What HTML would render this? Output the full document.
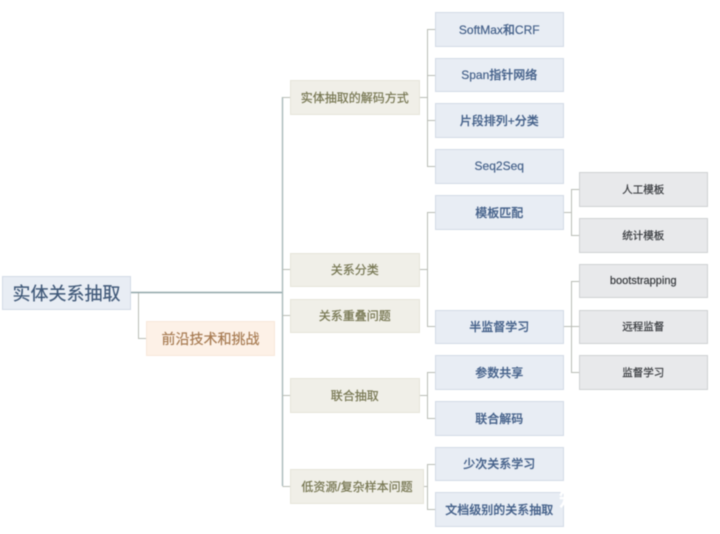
<!DOCTYPE html>
<html>
<head>
<meta charset="utf-8">
<style>
html,body{margin:0;padding:0;background:#fff;width:720px;height:534px;overflow:hidden}
#w{position:relative;width:720px;height:534px;filter:blur(0.45px);font-family:"Liberation Sans","Noto Sans CJK SC",sans-serif}
.n{position:absolute;box-sizing:border-box;display:flex;align-items:center;justify-content:center;white-space:nowrap;text-align:center;border:1px solid;-webkit-text-stroke:0.2px currentColor}
.a{left:434.5px;width:129.5px;height:34.5px;background:#e8edf4;border-color:#d3dbe6;color:#45618a;font-size:12px;font-weight:500}
.o{left:290px;width:129.5px;height:34.5px;background:#f0efe8;border-color:#e6e5da;color:#74744f;font-size:12px}
.g{left:578.5px;width:129.5px;height:34.5px;background:#e8e9eb;border-color:#cfd1d3;color:#36393d;font-size:10.5px}
svg{position:absolute;left:0;top:0}
</style>
</head>
<body>
<div id="w">
<svg width="720" height="534" fill="none">
<g stroke="#a9b9b9" stroke-width="1.4">
<path d="M131 292.5H282.5" stroke="#8fa5a8"/>
<path d="M282.5 97V486"/>
</g>
<g stroke="#b9bdb5" stroke-width="1">
<path d="M138.5 293V338.5H146"/>
<path d="M282.5 97.5H290.5M282.5 269.5H290.5M282.5 315.5H290.5M282.5 395.5H290.5M282.5 486.5H290.5"/>
<path d="M419.5 97.5H427.5M435 29.5H427.5V166.5H435M427.5 75.5H435M427.5 120.5H435"/>
<path d="M419.5 269.5H427.5M435 212.5H427.5V326.5H435"/>
<path d="M419.5 395.5H427.5M435 372.5H427.5V418.5H435"/>
<path d="M424 486.5H427.5M435 464.5H427.5V509.5H435"/>
<path d="M564 212.5H571.5M579 189.5H571.5V235.5H579"/>
<path d="M564 326.5H579M579 281.5H571.5V372.5H579"/>
</g>
</svg>

<div class="n" style="left:2px;top:275.5px;width:129px;height:34.5px;background:#e8edf4;border-color:#d3dbe6;color:#3f5878;font-size:18px">实体关系抽取</div>
<div class="n" style="left:146px;top:321px;width:129px;height:35px;background:#fdf1e7;border-color:#f8e8da;color:#a77b52;font-size:14px">前沿技术和挑战</div>

<div class="n o" style="top:80px">实体抽取的解码方式</div>
<div class="n o" style="top:252.5px">关系分类</div>
<div class="n o" style="top:298.5px">关系重叠问题</div>
<div class="n o" style="top:378px">联合抽取</div>
<div class="n o" style="top:469px;width:134px">低资源/复杂样本问题</div>

<div class="n a" style="top:12px">SoftMax和CRF</div>
<div class="n a" style="top:57.5px">Span指针网络</div>
<div class="n a" style="top:103px">片段排列+分类</div>
<div class="n a" style="top:149px">Seq2Seq</div>
<div class="n a" style="top:195px">模板匹配</div>
<div class="n a" style="top:309.5px">半监督学习</div>
<div class="n a" style="top:355px">参数共享</div>
<div class="n a" style="top:401px">联合解码</div>
<div class="n a" style="top:446.5px">少次关系学习</div>
<div class="n a" style="top:492px">文档级别的关系抽取</div>

<div class="n g" style="top:172px">人工模板</div>
<div class="n g" style="top:218px">统计模板</div>
<div class="n g" style="top:263.5px;font-size:11px">bootstrapping</div>
<div class="n g" style="top:309.5px">远程监督</div>
<div class="n g" style="top:355px">监督学习</div>

<div style="position:absolute;left:559px;top:488px;width:20px;font-size:20px;line-height:24px;color:#fff;font-weight:700">知</div>
</div>
</body>
</html>
